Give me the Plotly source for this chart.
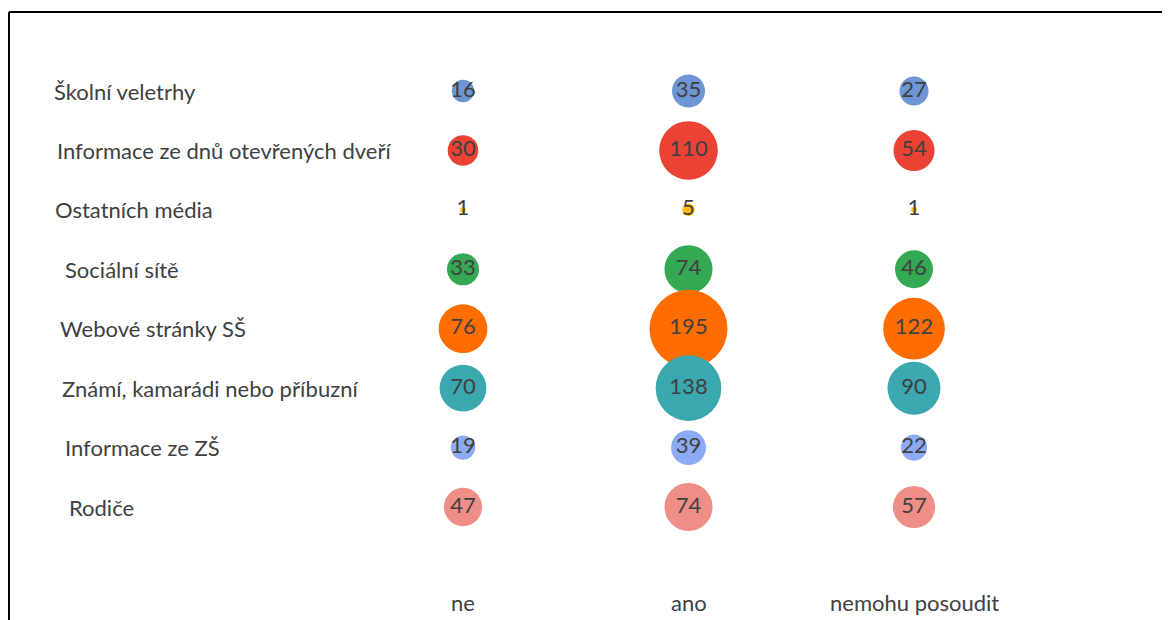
import plotly.graph_objects as go

categories = ["Školní veletrhy", "Informace ze dnů otevřených dveří", "Ostatních média",
              "Sociální sítě", "Webové stránky SŠ", "Známí, kamarádi nebo příbuzní",
              "Informace ze ZŠ", "Rodiče"]
answers = ["ne", "ano", "nemohu posoudit"]
ne_vals = [16, 30, 1, 33, 76, 70, 19, 47]
ano_vals = [35, 110, 5, 74, 195, 138, 39, 74]
nemohu_vals = [27, 54, 1, 46, 122, 90, 22, 57]

colors = ["#6F96D4", "#EA4335", "#FBBC04", "#34A853", "#FF6D01", "#3BA7AF", "#8DAAF5", "#EF8E87"]
label_x_px = [52, 55, 53, 63, 58, 60, 63, 67]

OFF = 8  # page body margin
W, H = 1170 - OFF, 620 - OFF
font_family = "Lato, 'Open Sans', sans-serif"
text_color = "#404040"
fs = 22

max_val = max(ano_vals + ne_vals + nemohu_vals)
max_diam = 78
sizeref = 2.0 * max_val / (max_diam ** 2)

fig = go.Figure()
cols = [ne_vals, ano_vals, nemohu_vals]
for i, cat in enumerate(categories):
    vals = [c[i] for c in cols]
    fig.add_trace(go.Scatter(
        x=list(range(len(answers))), y=[i] * len(answers),
        mode="markers+text",
        text=[str(v) for v in vals],
        textposition="middle center",
        textfont=dict(family=font_family, size=fs, color=text_color),
        marker=dict(size=vals, sizemode="area", sizeref=sizeref, sizemin=0,
                    color=colors[i], line=dict(width=0), opacity=1),
        name=cat, showlegend=False, hoverinfo="text",
        hovertext=[f"{cat} – {a}: {v}" for a, v in zip(answers, vals)],
    ))

x_step = 225.5
x0_px = 463 - OFF
xr0 = -x0_px / x_step
xr1 = xr0 + W / x_step
y_step = 59.43
y0_px = 91 - OFF
yr_top = -y0_px / y_step
yr_bot = yr_top + H / y_step

annotations = []
for i, cat in enumerate(categories):
    annotations.append(dict(
        x=(label_x_px[i] - OFF) / W, xref="paper", xanchor="left",
        y=i, yref="y", yanchor="middle",
        text=cat, showarrow=False,
        font=dict(family=font_family, size=fs, color=text_color)))
for j, a in enumerate(answers):
    annotations.append(dict(
        x=j, xref="x", xanchor="center",
        y=(602 - OFF - y0_px) / y_step, yref="y", yanchor="middle",
        text=a, showarrow=False,
        font=dict(family=font_family, size=fs, color=text_color)))

top_y = 1 - (12 - OFF) / H
left_x = (9 - OFF) / W
fig.update_layout(
    width=W, height=H,
    margin=dict(l=0, r=0, t=0, b=0),
    paper_bgcolor="white", plot_bgcolor="white",
    xaxis=dict(range=[xr0, xr1], visible=False, fixedrange=True),
    yaxis=dict(range=[yr_bot, yr_top], visible=False, fixedrange=True),
    annotations=annotations,
    shapes=[
        dict(type="line", xref="paper", yref="paper", x0=left_x, x1=1, y0=top_y, y1=top_y,
             line=dict(color="black", width=2)),
        dict(type="line", xref="paper", yref="paper", x0=left_x, x1=left_x, y0=0, y1=top_y,
             line=dict(color="black", width=2)),
    ],
)

fig.write_html("out.html")
